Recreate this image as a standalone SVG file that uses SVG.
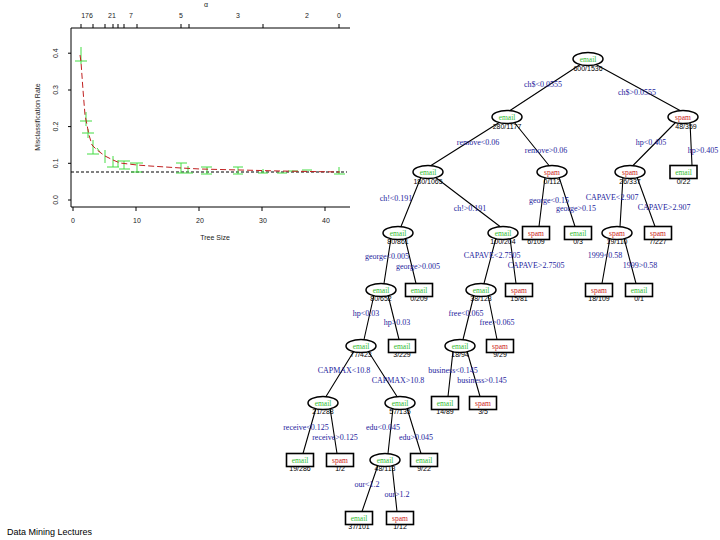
<svg xmlns="http://www.w3.org/2000/svg" width="720" height="540" viewBox="0 0 720 540">
<style>
.ax{stroke:#000;stroke-width:1;fill:none}
.tk{font-family:"Liberation Sans",Arial,sans-serif;font-size:7px;fill:#222}
.eb{stroke:#44dd44;stroke-width:1;fill:none}
.cv{stroke:#c02020;stroke-width:1;fill:none;stroke-dasharray:6,3}
.e{stroke:#000;stroke-width:1.1;fill:none}
.nE{fill:#fff;stroke:#000;stroke-width:1.5}
.nR{fill:#fff;stroke:#000;stroke-width:1.6}
.em{font-family:"Liberation Serif",serif;font-size:7.5px;fill:#33bb33;text-anchor:middle}
.sp{font-family:"Liberation Serif",serif;font-size:7.5px;fill:#cc2222;text-anchor:middle}
.ct{font-family:"Liberation Sans",Arial,sans-serif;font-size:7px;fill:#000;text-anchor:middle}
.lb{font-family:"Liberation Serif",serif;font-size:8px;fill:#1c1c9c;text-anchor:middle}
</style>
<rect width="720" height="540" fill="#fff"/>
<g id="plot">
<path class="ax" d="M350,28 H71 V207 H350"/>
<g class="ax">
<path d="M68,53.2 H71 M68,90 H71 M68,126.6 H71 M68,163.3 H71 M68,200 H71"/>
<path d="M73,207 V211 M136,207 V211 M199,207 V211 M262,207 V211 M325,207 V211"/>
<path d="M81,28 V24 M93,28 V24 M105,28 V24 M113,28 V24 M118,28 V24 M124,28 V24 M137,28 V24 M181,28 V24 M189,28 V24 M263,28 V24 M339,28 V24"/>
</g>
<g class="tk" text-anchor="middle">
<text transform="translate(58,53.2) rotate(-90)">0.4</text>
<text transform="translate(58,90) rotate(-90)">0.3</text>
<text transform="translate(58,126.6) rotate(-90)">0.2</text>
<text transform="translate(58,163.3) rotate(-90)">0.1</text>
<text transform="translate(58,200) rotate(-90)">0.0</text>
<text transform="translate(40,117) rotate(-90)">Misclassification Rate</text>
<text x="73" y="223">0</text>
<text x="137" y="223">10</text>
<text x="200" y="223">20</text>
<text x="263" y="223">30</text>
<text x="326" y="223">40</text>
<text x="215" y="240">Tree Size</text>
<text x="87" y="18">176</text>
<text x="112" y="18">21</text>
<text x="131" y="18">7</text>
<text x="181" y="18">5</text>
<text x="238" y="18">3</text>
<text x="307" y="18">2</text>
<text x="339" y="18">0</text>
<text x="206" y="7">α</text>
</g>
<line x1="71" y1="172" x2="347" y2="172" stroke="#000" stroke-width="1" stroke-dasharray="3,2"/>
<path class="eb" d="M81,47 V64 M75,61 H87 M86,112 V126 M80,121 H92 M88,129 V138 M82,133 H94 M93,140 V154 M87,154 H99 M97,148 L100,152 M105,150 V163 M113,156 V167 M107,167 H119 M118,160 V167 M118,161 H130 M124,161 V169 M119,169 H130 M137,163 V172 M130,163 H143 M131,172 H142 M181,163 V173 M176,163 H187 M176,173 H193 M188,166 V172 M207,167 V174 M201,167 H212 M201,174 H212 M238,167 V174 M233,167 H243 M233,174 H243 M263,169 V173 M258,173 H268 M277,173 H287 M288,171 H298 M302,170 H312 M339,167 V174 M334,174 H345"/>
<path class="cv" d="M80,55 L81,62 L83,90 L85,115 L87,125 L89,135 L92,145 L97,150 L105,156 L113,160 L120,163 L137,165 L150,166 L181,168 L200,169 L240,170 L280,171 L340,172"/>
</g>
<g id="connectors">
<path class="e" d="M581,64 L510,110.5 M595,64 L680,110.5 M500,122 L431,165.5 M514,122 L549,165.5 M676,122 L633,165.5 M690,122 L692,165.5 M421,177 L401,226.5 M435,177 L500,226.5 M545,177 L539,226.5 M559,177 L575,226.5 M623,177 L620,226.5 M637,177 L655,226.5 M391,238 L384,283.5 M405,238 L416,283.5 M496,238 L484,283.5 M510,238 L516,283.5 M610,238 L602,283.5 M624,238 L636,283.5 M374,295 L364,339.5 M388,295 L399,339.5 M474,295 L463,339.5 M488,295 L497,339.5 M354,351 L326,396.5 M368,351 L397,396.5 M453,351 L448,396.5 M467,351 L480,396.5 M316,408 L303,453.5 M330,408 L337,453.5 M393,408 L388,453.5 M407,408 L421,453.5 M378,465 L362,511.5 M392,465 L397,511.5"/>
<g>
<text class="lb" x="543" y="87">ch$&lt;0.0555</text>
<text class="lb" x="637" y="95">ch$&gt;0.0555</text>
<text class="lb" x="478" y="145">remove&lt;0.06</text>
<text class="lb" x="546" y="153">remove&gt;0.06</text>
<text class="lb" x="651" y="145">hp&lt;0.405</text>
<text class="lb" x="703" y="153">hp&gt;0.405</text>
<text class="lb" x="396" y="201">ch!&lt;0.191</text>
<text class="lb" x="470" y="211">ch!&gt;0.191</text>
<text class="lb" x="549" y="203">george&lt;0.15</text>
<text class="lb" x="576" y="211">george&gt;0.15</text>
<text class="lb" x="612" y="200">CAPAVE&lt;2.907</text>
<text class="lb" x="664" y="210">CAPAVE&gt;2.907</text>
<text class="lb" x="387" y="259">george&lt;0.005</text>
<text class="lb" x="418" y="269">george&gt;0.005</text>
<text class="lb" x="492" y="258">CAPAVE&lt;2.7505</text>
<text class="lb" x="536" y="268">CAPAVE&gt;2.7505</text>
<text class="lb" x="605" y="258">1999&lt;0.58</text>
<text class="lb" x="640" y="268">1999&gt;0.58</text>
<text class="lb" x="366" y="316">hp&lt;0.03</text>
<text class="lb" x="397" y="325">hp&gt;0.03</text>
<text class="lb" x="466" y="316">free&lt;0.065</text>
<text class="lb" x="497" y="325">free&gt;0.065</text>
<text class="lb" x="344" y="373">CAPMAX&lt;10.8</text>
<text class="lb" x="398" y="383">CAPMAX&gt;10.8</text>
<text class="lb" x="453" y="373">business&lt;0.145</text>
<text class="lb" x="482" y="383">business&gt;0.145</text>
<text class="lb" x="306" y="430">receive&lt;0.125</text>
<text class="lb" x="335" y="440">receive&gt;0.125</text>
<text class="lb" x="383" y="430">edu&lt;0.045</text>
<text class="lb" x="416" y="440">edu&gt;0.045</text>
<text class="lb" x="367" y="487">our&lt;1.2</text>
<text class="lb" x="397" y="497">our&gt;1.2</text>
</g>
</g>
<g id="n1"><ellipse class="nE" cx="588" cy="59" rx="15" ry="6.5"/><text class="em" x="588" y="61.5">email</text><text class="ct" x="588" y="71">600/1536</text></g>
<g id="n2"><ellipse class="nE" cx="507" cy="117" rx="15" ry="6.5"/><text class="em" x="507" y="119.5">email</text><text class="ct" x="507" y="129">280/1177</text></g>
<g id="n3"><ellipse class="nE" cx="683" cy="117" rx="15" ry="6.5"/><text class="sp" x="683" y="119.5">spam</text><text class="ct" x="686" y="129">48/359</text></g>
<g id="n4"><ellipse class="nE" cx="428" cy="172" rx="15" ry="6.5"/><text class="em" x="428" y="174.5">email</text><text class="ct" x="428" y="184">180/1065</text></g>
<g id="n5"><ellipse class="nE" cx="552" cy="172" rx="15" ry="6.5"/><text class="sp" x="552" y="174.5">spam</text><text class="ct" x="552" y="184">0/112</text></g>
<g id="n6"><ellipse class="nE" cx="630" cy="172" rx="15" ry="6.5"/><text class="sp" x="630" y="174.5">spam</text><text class="ct" x="630" y="184">26/337</text></g>
<g id="n7"><rect class="nR" x="670" y="165.5" width="27" height="13"/><text class="em" x="683.5" y="174.5">email</text><text class="ct" x="683.5" y="184">0/22</text></g>
<g id="n8"><ellipse class="nE" cx="398" cy="233" rx="15" ry="6.5"/><text class="em" x="398" y="235.5">email</text><text class="ct" x="398" y="244">80/861</text></g>
<g id="n9"><ellipse class="nE" cx="503" cy="233" rx="15" ry="6.5"/><text class="em" x="503" y="235.5">email</text><text class="ct" x="503" y="244">100/204</text></g>
<g id="n10"><rect class="nR" x="522.5" y="226.5" width="27" height="13"/><text class="sp" x="536" y="235.5">spam</text><text class="ct" x="536" y="244">6/109</text></g>
<g id="n11"><rect class="nR" x="564.5" y="226.5" width="27" height="13"/><text class="em" x="578" y="235.5">email</text><text class="ct" x="578" y="244">0/3</text></g>
<g id="n12"><ellipse class="nE" cx="617" cy="233" rx="15" ry="6.5"/><text class="sp" x="617" y="235.5">spam</text><text class="ct" x="617" y="244">19/110</text></g>
<g id="n13"><rect class="nR" x="644.5" y="226.5" width="27" height="13"/><text class="sp" x="658" y="235.5">spam</text><text class="ct" x="658" y="244">7/227</text></g>
<g id="n16"><ellipse class="nE" cx="381" cy="290" rx="15" ry="6.5"/><text class="em" x="381" y="292.5">email</text><text class="ct" x="381" y="301">80/652</text></g>
<g id="n17"><rect class="nR" x="405.5" y="283.5" width="27" height="13"/><text class="em" x="419" y="292.5">email</text><text class="ct" x="419" y="301">0/209</text></g>
<g id="n18"><ellipse class="nE" cx="481" cy="290" rx="15" ry="6.5"/><text class="em" x="481" y="292.5">email</text><text class="ct" x="481" y="301">38/123</text></g>
<g id="n19"><rect class="nR" x="505.5" y="283.5" width="27" height="13"/><text class="sp" x="519" y="292.5">spam</text><text class="ct" x="519" y="301">15/81</text></g>
<g id="n24"><rect class="nR" x="585.5" y="283.5" width="27" height="13"/><text class="sp" x="599" y="292.5">spam</text><text class="ct" x="599" y="301">18/109</text></g>
<g id="n25"><rect class="nR" x="625.5" y="283.5" width="27" height="13"/><text class="em" x="639" y="292.5">email</text><text class="ct" x="639" y="301">0/1</text></g>
<g id="n32"><ellipse class="nE" cx="361" cy="346" rx="15" ry="6.5"/><text class="em" x="361" y="348.5">email</text><text class="ct" x="361" y="357">77/423</text></g>
<g id="n33"><rect class="nR" x="388.5" y="339.5" width="27" height="13"/><text class="em" x="402" y="348.5">email</text><text class="ct" x="402" y="357">3/229</text></g>
<g id="n36"><ellipse class="nE" cx="460" cy="346" rx="15" ry="6.5"/><text class="em" x="460" y="348.5">email</text><text class="ct" x="460" y="357">18/94</text></g>
<g id="n37"><rect class="nR" x="486.5" y="339.5" width="27" height="13"/><text class="sp" x="500" y="348.5">spam</text><text class="ct" x="500" y="357">9/29</text></g>
<g id="n64"><ellipse class="nE" cx="323" cy="403" rx="15" ry="6.5"/><text class="em" x="323" y="405.5">email</text><text class="ct" x="323" y="414">21/288</text></g>
<g id="n65"><ellipse class="nE" cx="400" cy="403" rx="15" ry="6.5"/><text class="em" x="400" y="405.5">email</text><text class="ct" x="400" y="414">57/135</text></g>
<g id="n72"><rect class="nR" x="431.5" y="396.5" width="27" height="13"/><text class="em" x="445" y="405.5">email</text><text class="ct" x="445" y="414">14/89</text></g>
<g id="n73"><rect class="nR" x="469.5" y="396.5" width="27" height="13"/><text class="sp" x="483" y="405.5">spam</text><text class="ct" x="483" y="414">3/5</text></g>
<g id="n128"><rect class="nR" x="286.5" y="453.5" width="27" height="13"/><text class="em" x="300" y="462.5">email</text><text class="ct" x="300" y="471">19/286</text></g>
<g id="n129"><rect class="nR" x="326.5" y="453.5" width="27" height="13"/><text class="sp" x="340" y="462.5">spam</text><text class="ct" x="340" y="471">1/2</text></g>
<g id="n130"><ellipse class="nE" cx="385" cy="460" rx="15" ry="6.5"/><text class="em" x="385" y="462.5">email</text><text class="ct" x="385" y="471">48/113</text></g>
<g id="n131"><rect class="nR" x="410.5" y="453.5" width="27" height="13"/><text class="em" x="424" y="462.5">email</text><text class="ct" x="424" y="471">9/22</text></g>
<g id="n260"><rect class="nR" x="345.5" y="511.5" width="27" height="13"/><text class="em" x="359" y="520.5">email</text><text class="ct" x="359" y="529">37/101</text></g>
<g id="n261"><rect class="nR" x="386.5" y="511.5" width="27" height="13"/><text class="sp" x="400" y="520.5">spam</text><text class="ct" x="400" y="529">1/12</text></g>
<text x="7" y="535" font-family="'Liberation Sans',Arial,sans-serif" font-size="9px" fill="#000">Data Mining Lectures</text>
</svg>
